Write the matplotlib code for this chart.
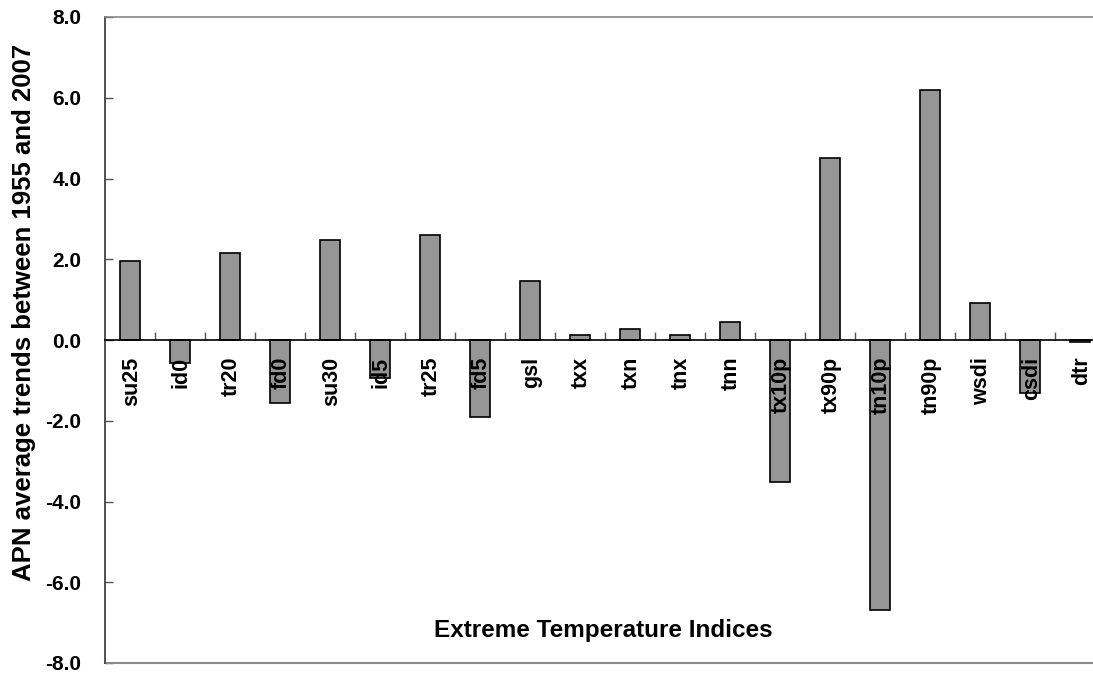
import matplotlib
matplotlib.use("Agg")
import matplotlib.pyplot as plt
from matplotlib.ticker import FormatStrFormatter

plt.rcParams["font.family"] = ["Liberation Sans", "DejaVu Sans"]
plt.rcParams["font.weight"] = "bold"
plt.rcParams["axes.unicode_minus"] = False

# index names and their average trends (1955-2007)
indices = ["su25", "id0", "tr20", "fd0", "su30", "id5", "tr25", "fd5", "gsl", "txx",
           "txn", "tnx", "tnn", "tx10p", "tx90p", "tn10p", "tn90p", "wsdi", "csdi", "dtr"]
trends = [1.96, -0.58, 2.15, -1.55, 2.47, -0.93, 2.59, -1.90, 1.47, 0.12,
          0.28, 0.13, 0.44, -3.51, 4.51, -6.68, 6.19, 0.92, -1.32, -0.06]
yticks = [-8, -6, -4, -2, 0, 2, 4, 6, 8]

fig = plt.figure(figsize=(10.93, 6.77), dpi=100)
ax = fig.add_axes([105 / 1093, 14 / 677, 1000 / 1093, 646 / 677])

x = list(range(len(indices)))
ax.bar(x, trends, width=0.4, color="#969696", edgecolor="black", linewidth=1.2, zorder=2)

ax.set_xlim(-0.5, len(indices) - 0.5)
ax.set_ylim(-8, 8)
ax.set_yticks(yticks)
ax.yaxis.set_major_formatter(FormatStrFormatter("%.1f"))
ax.tick_params(axis="y", direction="in", length=6, width=1, color="#555555",
               labelsize=15, pad=17)

# category axis sits on the zero line, ticks between the bars
ax.spines["bottom"].set_position(("data", 0))
ax.spines["bottom"].set_color("black")
ax.spines["bottom"].set_linewidth(1.2)
ax.set_xticks([i + 0.5 for i in x])
ax.tick_params(axis="x", direction="in", length=6, width=1, color="#555555",
               labelbottom=False)

ax.spines["left"].set_color("#333333")
ax.spines["left"].set_linewidth(1.2)
ax.spines["top"].set_color("#888888")
ax.spines["top"].set_linewidth(1.2)
ax.spines["right"].set_visible(False)
ax.axhline(-8, color="#888888", linewidth=1.5, clip_on=False)

for i, name in zip(x, indices):
    ax.annotate(name, xy=(i, 0), xytext=(1, -12), textcoords="offset points",
                ha="center", va="top", rotation=90, fontsize=15.5, fontweight="bold",
                zorder=3)

fig.text(603 / 1093, 1 - 630 / 677, "Extreme Temperature Indices",
         ha="center", va="center", fontsize=17.5, fontweight="bold")
fig.text(24 / 1093, 1 - 312 / 677, "APN average trends between 1955 and 2007",
         ha="center", va="center", rotation=90, fontsize=18.5, fontweight="bold")

fig.savefig("out.png", dpi=100)
